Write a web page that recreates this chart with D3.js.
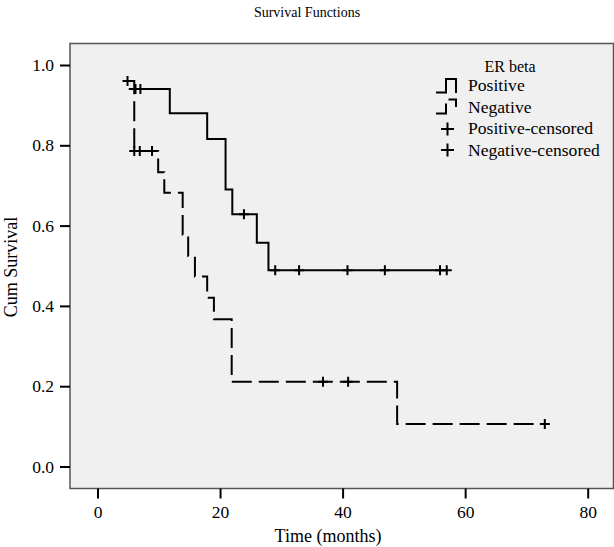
<html>
<script src='https://d3js.org/d3.v7.min.js'></script>
<style>
body {margin: 0; background: white;}
text {font-family: 'Liberation Serif', 'Times New Roman', serif; fill: black;}
.tick text {font-size: 17.5px;}
.tick line {stroke: black; stroke-width: 2px;}
.curve {fill: none; stroke: black; stroke-width: 2px;}
.cens {fill: none; stroke: black; stroke-width: 2px;}
</style>
<body>
<svg width=614 height=547></svg>
<script>
// values
var xTicks = [0, 20, 40, 60, 80];
var yTicks = [0.0, 0.2, 0.4, 0.6, 0.8, 1.0];

// ER beta positive: times where the step starts and the survival after it
var posTimes = [5.1, 11.8, 17.9, 20.9, 22.0, 26.0, 27.9];
var posSurv  = [0.94, 0.88, 0.816, 0.69, 0.628, 0.557, 0.489];
var posCens  = [6.2, 7.0, 23.9, 29.0, 32.9, 40.8, 46.9, 55.9, 57.0];

// ER beta negative
var negTimes = [4.9, 6.0, 9.9, 10.9, 13.9, 14.8, 15.9, 17.9, 19.0, 21.9, 48.9];
var negSurv  = [0.96, 0.786, 0.733, 0.682, 0.577, 0.524, 0.473, 0.42, 0.367, 0.211, 0.106];
var negCens  = [4.9, 6.0, 6.9, 8.9, 36.8, 40.9, 73.0];

var legendLabels = ["Positive", "Negative", "Positive-censored", "Negative-censored"];

var svg = d3.select("svg");

var x = d3.scaleLinear().domain([0, 80]).range([97.5, 587.7]);
var y = d3.scaleLinear().domain([0, 1]).range([466.5, 65]);

var plotL = 70, plotT = 43.5, plotR = 613.5, plotB = 488.5;

svg.append("rect")
    .attr("x", plotL).attr("y", plotT)
    .attr("width", plotR - plotL).attr("height", plotB - plotT)
    .attr("fill", "#f0f0f0")
    .attr("stroke", "#555").attr("stroke-width", 1.5);

svg.append("g")
    .attr("transform", "translate(" + plotL + ",0)")
    .call(d3.axisLeft(y).tickValues(yTicks).tickSize(10).tickPadding(6).tickFormat(d3.format(".1f")))
    .call(function(g) { g.select(".domain").remove(); })
    .selectAll("text").attr("font-family", null).attr("font-size", null);

svg.append("g")
    .attr("transform", "translate(0," + plotB + ")")
    .call(d3.axisBottom(x).tickValues(xTicks).tickSize(10).tickPadding(7).tickFormat(d3.format("d")))
    .call(function(g) { g.select(".domain").remove(); })
    .selectAll("text").attr("font-family", null).attr("font-size", null);

function survAt(times, surv, t) {
    var s = surv[0];
    for (var i = 0; i < times.length; i++) { if (times[i] <= t) s = surv[i]; }
    return s;
}

function stepPoints(times, surv, cens) {
    var pts = times.map(function(t, i) { return [t, surv[i]]; });
    var tEnd = d3.max(cens);
    pts.push([tEnd, surv[surv.length - 1]]);
    return pts;
}

var line = d3.line()
    .x(function(d) { return x(d[0]); })
    .y(function(d) { return y(d[1]); })
    .curve(d3.curveStepAfter);

svg.append("path")
    .attr("class", "curve")
    .attr("d", line(stepPoints(posTimes, posSurv, posCens)));

svg.append("path")
    .attr("class", "curve")
    .attr("stroke-dasharray", "20,7")
    .attr("d", line(stepPoints(negTimes, negSurv, negCens)));

var plus = "M-5,0H5M0,-5V5";

svg.append("g").selectAll("path")
    .data(posCens).enter().append("path")
    .attr("class", "cens")
    .attr("d", plus)
    .attr("transform", function(t) { return "translate(" + x(t) + "," + y(survAt(posTimes, posSurv, t)) + ")"; });

svg.append("g").selectAll("path")
    .data(negCens).enter().append("path")
    .attr("class", "cens")
    .attr("d", plus)
    .attr("transform", function(t) { return "translate(" + x(t) + "," + y(survAt(negTimes, negSurv, t)) + ")"; });

// legend
var lg = svg.append("g");
lg.append("text").attr("x", 510).attr("y", 72).attr("text-anchor", "middle")
    .style("font-size", "16px").text("ER beta");

lg.append("path").attr("class", "curve")
    .attr("d", "M436,92.5H446V79H456V93");
lg.append("path").attr("class", "curve")
    .attr("d", "M436,113.5H446V103.5M448.5,99.5H456V107");
lg.append("path").attr("class", "cens").attr("d", "M441,129H454M447.5,122.5V135.5");
lg.append("path").attr("class", "cens").attr("d", "M441,150H454M447.5,143.5V156.5");

lg.selectAll(".lab").data(legendLabels).enter().append("text")
    .attr("class", "lab")
    .attr("x", 468)
    .attr("y", function(d, i) { return 91 + i * 21.7; })
    .style("font-size", "17.6px")
    .text(function(d) { return d; });

svg.append("text").attr("x", 307).attr("y", 17).attr("text-anchor", "middle")
    .style("font-size", "14px").text("Survival Functions");

svg.append("text").attr("x", 328).attr("y", 542).attr("text-anchor", "middle")
    .style("font-size", "18px").text("Time (months)");

svg.append("text")
    .attr("transform", "translate(17,267) rotate(-90)")
    .attr("text-anchor", "middle")
    .style("font-size", "18px").text("Cum Survival");
</script>
</body>
</html>
